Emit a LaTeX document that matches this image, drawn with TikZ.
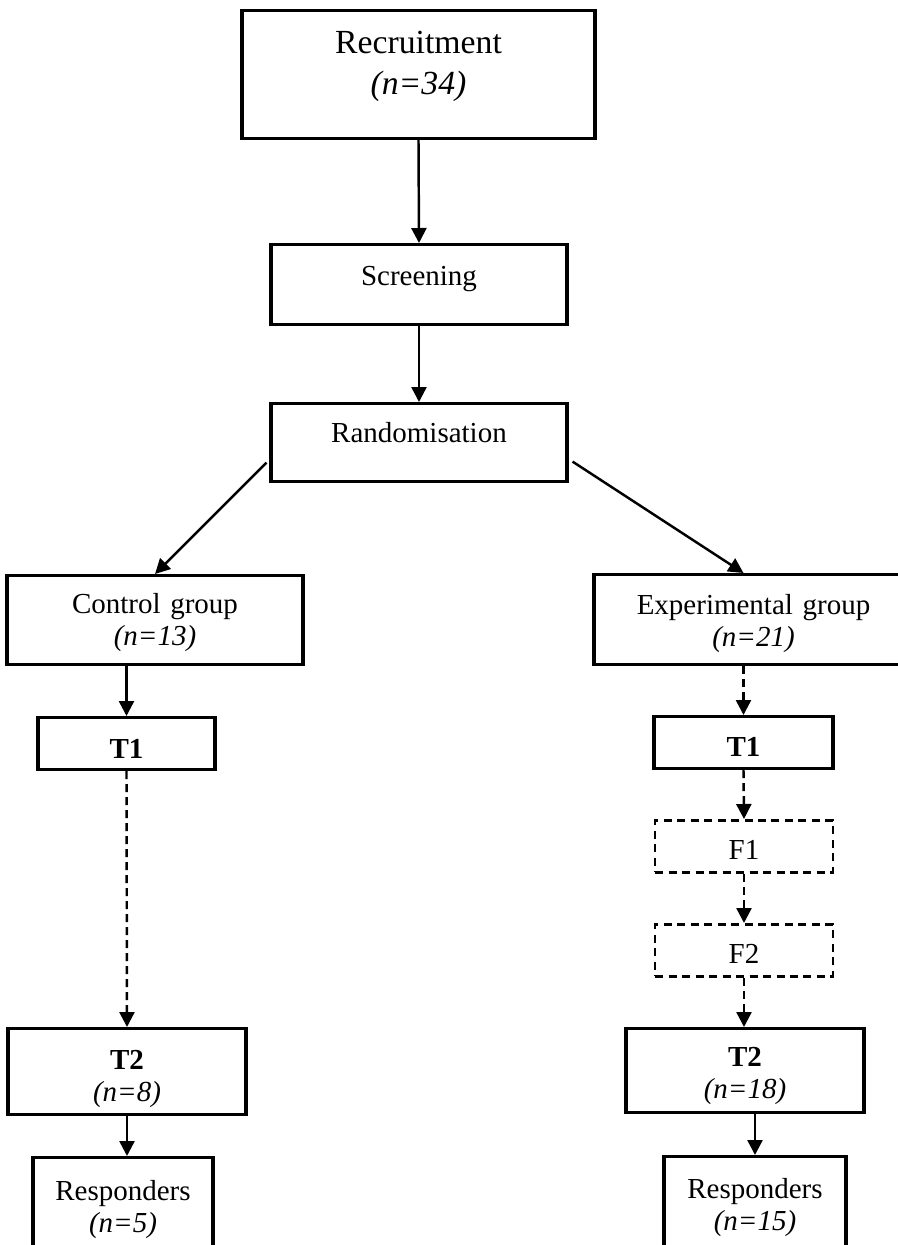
\documentclass[tikz,border=0pt]{standalone}
\usepackage{fontspec}
\setmainfont{Liberation Serif}
\usetikzlibrary{arrows.meta}

\begin{document}
\begin{tikzpicture}[x=0.02cm,y=-0.02cm,
    box/.style={draw,line width=1.8pt,inner sep=0pt,anchor=north,align=center,
      font=\fontsize{16.5}{18}\selectfont},
    dbox/.style={box,line width=1.5pt,dash pattern=on 0.16cm off 0.11cm},
    arr/.style={line width=1.4pt,-{Triangle[length=0.3cm,width=0.3cm]}},
    darr/.style={arr,dash pattern=on 0.16cm off 0.1cm}]
    \clip (0,0) rectangle (898,1245);

    % Top of the chart
    \node[box,text width=7.06cm,text height=0.86cm,text depth=1.70cm,
      font=\fontsize{19.2}{23.3}\selectfont] (rec) at (418.5,9)
      {Recruitment\\\textit{(n=34)}};
    \node[box,text width=5.92cm,text height=0.82cm,text depth=0.78cm] (scr) at (419,243)
      {Screening};
    \node[box,text width=5.92cm,text height=0.78cm,text depth=0.78cm] (rnd) at (419,402)
      {Randomisation};

    % Groups
    \node[box,text width=5.92cm,text height=0.76cm,text depth=1.02cm] (ctl) at (155,574)
      {Control group\\\textit{(n=13)}};
    \node[box,text width=6.38cm,text height=0.80cm,text depth=1.00cm] (exp) at (753.5,573)
      {Experimental group\\\textit{(n=21)}};

    % Control arm
    \node[box,text width=3.54cm,text height=0.82cm,text depth=0.22cm] (t1c) at (126.5,716)
      {\textbf{T1}};
    \node[box,text width=4.76cm,text height=0.82cm,text depth=0.90cm] (t2c) at (127,1027)
      {\textbf{T2}\\\textit{(n=8)}};
    \node[box,text width=3.60cm,text height=0.86cm,text depth=1.32cm] (rsc) at (123,1156)
      {Responders\\\textit{(n=5)}};

    % Experimental arm
    \node[box,text width=3.58cm,text height=0.80cm,text depth=0.24cm] (t1e) at (743.5,715)
      {\textbf{T1}};
    \node[dbox,text width=3.56cm,text height=0.78cm,text depth=0.26cm] (f1) at (744,819)
      {F1};
    \node[dbox,text width=3.56cm,text height=0.78cm,text depth=0.26cm] (f2) at (744,923)
      {F2};
    \node[box,text width=4.76cm,text height=0.76cm,text depth=0.92cm] (t2e) at (745,1027)
      {\textbf{T2}\\\textit{(n=18)}};
    \node[box,text width=3.64cm,text height=0.84cm,text depth=1.36cm] (rse) at (755,1155)
      {Responders\\\textit{(n=15)}};

    % Connectors
    \draw[arr] (rec.south) -- (scr.north);
    \draw[arr] (scr.south) -- (rnd.north);
    \draw[arr] ([shift={(-3,20)}]rnd.west) -- (ctl.north);
    \draw[arr] ([shift={(4,19)}]rnd.east) -- (exp.north -| t1e.north);

    \draw[arr] (ctl.south -| t1c.north) -- (t1c.north);
    \draw[darr] (t1c.south) -- (t2c.north);
    \draw[arr] (t2c.south) -- (t2c.south |- rsc.north);

    \draw[darr] (exp.south -| t1e.north) -- (t1e.north);
    \draw[darr] (t1e.south) -- (f1.north);
    \draw[darr] (f1.south) -- (f2.north);
    \draw[darr] (f2.south) -- (f2.south |- t2e.north);
    \draw[arr] (t2e.south -| rse.north) -- (rse.north);
\end{tikzpicture}
\end{document}
